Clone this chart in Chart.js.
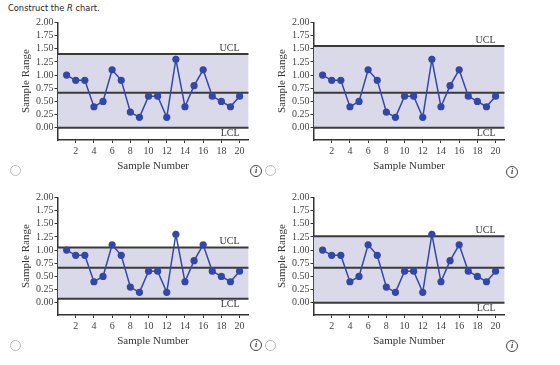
<!DOCTYPE html>
<html><head><meta charset="utf-8">
<script src="https://cdn.jsdelivr.net/npm/chart.js@4.4.1/dist/chart.umd.min.js"></script>
<style>
body{margin:0;background:#fff;width:560px;height:365px;position:relative;overflow:hidden;}
canvas.c{position:absolute;}
#title{position:absolute;left:8px;top:3px;font:8.3px "DejaVu Sans",sans-serif;color:#222;white-space:nowrap;}
.radio{position:absolute;width:9px;height:9px;border:1px solid #bbb;border-radius:50%;background:#fff;}
.info{position:absolute;width:10px;height:10px;border:1px solid #444;border-radius:50%;font:italic bold 8px "Liberation Serif",serif;color:#333;text-align:center;line-height:10px;}
</style>
</head><body>
<div id="title">Construct the <i>R</i> chart.</div>
<canvas class="c" id="c0" width="256" height="175" style="left:0;top:0"></canvas>
<canvas class="c" id="c1" width="256" height="175" style="left:256px;top:0"></canvas>
<canvas class="c" id="c2" width="256" height="175" style="left:0;top:175px"></canvas>
<canvas class="c" id="c3" width="256" height="175" style="left:256px;top:175px"></canvas>
<div class="radio" style="left:10px;top:165px"></div>
<div class="info" style="left:250px;top:165px">i</div>
<div class="radio" style="left:265px;top:165px"></div>
<div class="info" style="left:506px;top:166px">i</div>
<div class="radio" style="left:10px;top:340px"></div>
<div class="info" style="left:250px;top:339px">i</div>
<div class="radio" style="left:265px;top:340px"></div>
<div class="info" style="left:506px;top:340px">i</div>
<script>
const sampleNumbers = [1,2,3,4,5,6,7,8,9,10,11,12,13,14,15,16,17,18,19,20];
const sampleRanges = [1.0,0.9,0.9,0.4,0.5,1.1,0.9,0.3,0.2,0.6,0.6,0.2,1.3,0.4,0.8,1.1,0.6,0.5,0.4,0.6];
const centerLine = 0.665;
const uclValues = [1.40, 1.55, 1.05, 1.26];
const lclValues = [0.00, 0.00, 0.08, 0.00];
const xTickValues = [2,4,6,8,10,12,14,16,18,20];
const yTickValues = [0,0.25,0.5,0.75,1,1.25,1.5,1.75,2];

const serif = '"Liberation Serif","Times New Roman",serif';
const lineCol = '#3a3a3a';
const bandCol = '#d9d9e9';
const pointCol = '#3347a8';

const labelPlugin = {
  id: 'limitLabels',
  afterDatasetsDraw(chart, args, opts) {
    const {ctx, scales:{x, y}} = chart;
    ctx.save();
    ctx.font = '10px ' + serif;
    ctx.fillStyle = '#333';
    ctx.textAlign = 'right';
    const px = x.getPixelForValue(20);
    ctx.textBaseline = 'bottom';
    ctx.fillText('UCL', px, y.getPixelForValue(opts.ucl) - 1);
    ctx.textBaseline = 'top';
    ctx.fillText('LCL', px, y.getPixelForValue(opts.lcl) + 1);
    ctx.restore();
  }
};

function makeChart(id, ucl, lcl) {
  const flat = v => [{x:0, y:v}, {x:21, y:v}];
  new Chart(document.getElementById(id), {
    type: 'line',
    data: {
      datasets: [
        {data: sampleNumbers.map((n,i)=>({x:n, y:sampleRanges[i]})), borderColor: pointCol, backgroundColor: pointCol,
         borderWidth: 1.5, pointRadius: 3.6, pointBorderWidth: 0, tension: 0, fill: false, order: 0},
        {data: flat(ucl), borderColor: lineCol, borderWidth: 2, pointRadius: 0, fill: {target: 3}, backgroundColor: bandCol, order: 2},
        {data: flat(centerLine), borderColor: lineCol, borderWidth: 2, pointRadius: 0, fill: false, order: 1},
        {data: flat(lcl), borderColor: lineCol, borderWidth: 2, pointRadius: 0, fill: false, order: 1}
      ]
    },
    options: {
      responsive: false, animation: false, events: [],
      layout: {padding: {left: 0, right: 7.3, top: 22.3, bottom: 0}},
      plugins: {legend: {display: false}, tooltip: {enabled: false}, limitLabels: {ucl, lcl}},
      scales: {
        x: {
          type: 'linear', min: 0, max: 21,
          afterBuildTicks: s => { s.ticks = xTickValues.map(v => ({value: v})); },
          afterFit: s => { s.height = 35; },
          grid: {drawOnChartArea: false, drawTicks: true, tickLength: 3, color: '#333'},
          border: {color: '#333', width: 1.5},
          ticks: {font: {family: serif, size: 10}, color: '#444', padding: 2, maxRotation: 0, autoSkip: false},
          title: {display: true, text: 'Sample Number', font: {family: serif, size: 11}, color: '#333', padding: {top: 0, bottom: 2.5}}
        },
        y: {
          type: 'linear', min: -0.23, max: 2,
          afterBuildTicks: s => { s.ticks = yTickValues.map(v => ({value: v})); },
          afterFit: s => { s.width = 57.5; },
          grid: {drawOnChartArea: false, drawTicks: true, tickLength: 3, color: '#333'},
          border: {color: '#333', width: 1.5},
          ticks: {font: {family: serif, size: 10}, color: '#444', padding: 1, callback: v => Number(v).toFixed(2), autoSkip: false},
          title: {display: true, text: 'Sample Range', font: {family: serif, size: 11}, color: '#333', padding: {top: 20, bottom: 0}}
        }
      }
    },
    plugins: [labelPlugin]
  });
}
['c0','c1','c2','c3'].forEach((id, i) => makeChart(id, uclValues[i], lclValues[i]));
</script>
</body></html>
